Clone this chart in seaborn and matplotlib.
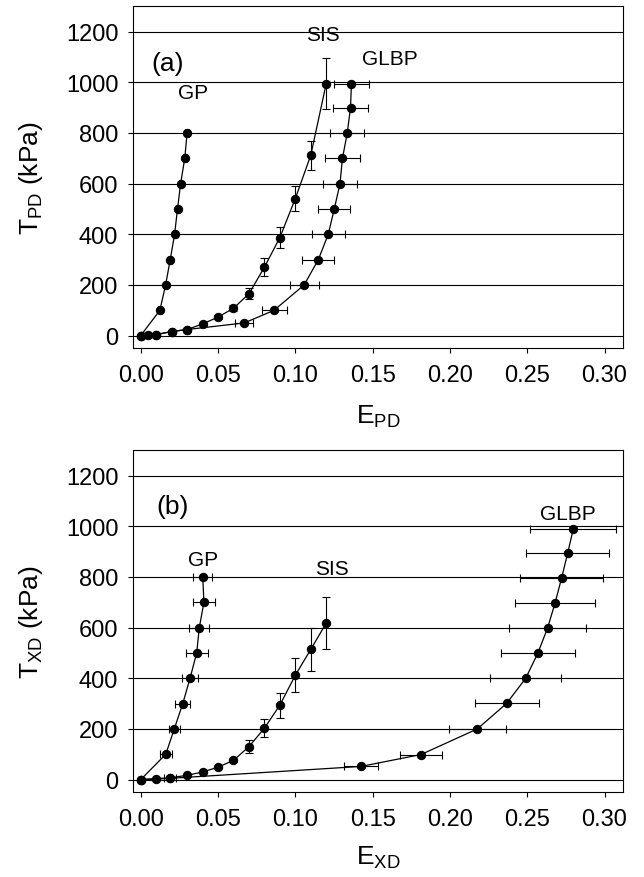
import matplotlib
matplotlib.use("Agg")
import matplotlib.pyplot as plt
import numpy as np
import pandas as pd
import seaborn as sns

sns.set_theme(style="white")
plt.rcParams["font.family"] = ["Liberation Sans", "DejaVu Sans"]
plt.rcParams["mathtext.default"] = "regular"
plt.rcParams["text.color"] = "black"
plt.rcParams["axes.labelcolor"] = "black"

# ---- panel (a): pressure direction ----
gp_pd_x = [0.0, 0.0124, 0.0161, 0.0191, 0.0219, 0.0238, 0.0258, 0.0285, 0.0300]
gp_pd_y = [0, 100, 200, 300, 400, 500, 600, 700, 800]
gp_pd_xerr = [0, 0.0012, 0.0012, 0.0012, 0.0012, 0.0012, 0.0012, 0.0012, 0.0015]

sis_pd_x = [0.0, 0.005, 0.01, 0.02, 0.03, 0.04, 0.05, 0.06, 0.07, 0.08, 0.09, 0.10, 0.11, 0.12]
sis_pd_y = [0, 1, 4, 16, 24, 46, 73, 108, 165, 270, 387, 541, 712, 995]
sis_pd_yerr = [0, 0, 0, 0, 3, 5, 8, 12, 22, 35, 42, 50, 58, 102]

glbp_pd_x = [0.0, 0.01, 0.02, 0.03, 0.067, 0.0863, 0.1057, 0.1149, 0.1213, 0.1252,
             0.1289, 0.1305, 0.1336, 0.1357, 0.1363]
glbp_pd_y = [0, 4, 16, 24, 50, 100, 200, 300, 400, 500, 600, 700, 800, 900, 995]
glbp_pd_xerr = [0, 0, 0, 0, 0.0058, 0.008, 0.0093, 0.0103, 0.0108, 0.0103, 0.0108,
                0.0113, 0.011, 0.0116, 0.0116]

# ---- panel (b): cross direction ----
gp_xd_x = [0.0, 0.0162, 0.0217, 0.0272, 0.0319, 0.0362, 0.0379, 0.0409, 0.0401]
gp_xd_y = [0, 100, 200, 300, 400, 500, 600, 700, 800]
gp_xd_xerr = [0, 0.0038, 0.0036, 0.0049, 0.0054, 0.007, 0.0064, 0.007, 0.0063]

sis_xd_x = [0.0, 0.01, 0.019, 0.03, 0.04, 0.05, 0.06, 0.07, 0.08, 0.09, 0.10, 0.11, 0.12]
sis_xd_y = [0, 4, 7, 17, 30, 49, 76, 130, 203, 294, 412, 514, 618]
sis_xd_yerr = [0, 0, 0, 0, 0, 0, 6, 26, 36, 49, 67, 86, 101]

glbp_xd_x = [0.0, 0.019, 0.1425, 0.1813, 0.2177, 0.2367, 0.249, 0.2568, 0.2632,
             0.268, 0.2723, 0.2762, 0.2798]
glbp_xd_y = [0, 5, 52, 99, 200, 301, 400, 498, 599, 697, 797, 895, 990]
glbp_xd_xerr = [0, 0.0038, 0.0108, 0.0138, 0.0184, 0.0207, 0.023, 0.024, 0.025,
                0.026, 0.027, 0.027, 0.0278]

x_ticks = [0.0, 0.05, 0.10, 0.15, 0.20, 0.25, 0.30]
y_ticks = [0, 200, 400, 600, 800, 1000, 1200]


def draw_curve(ax, x, y, xerr=None, yerr=None):
    df = pd.DataFrame({"x": x, "y": y})
    if xerr is not None or yerr is not None:
        ax.errorbar(x, y, xerr=xerr, yerr=yerr, fmt="none", ecolor="black",
                    elinewidth=0.8, capsize=3, capthick=0.8, zorder=2)
    sns.lineplot(data=df, x="x", y="y", sort=False, estimator=None, color="black",
                 linewidth=0.9, marker="o", markersize=6, markeredgecolor="black",
                 markerfacecolor="black", ax=ax, zorder=3)


def style_axes(ax, xlabel, ylabel, xlabel_y):
    ax.set_xlim(-0.005, 0.312)
    ax.set_ylim(-50, 1300)
    ax.set_xticks(x_ticks)
    ax.set_xticklabels([f"{t:.2f}" for t in x_ticks])
    ax.set_yticks(y_ticks)
    ax.yaxis.grid(True, color="black", linewidth=0.8)
    ax.xaxis.grid(False)
    ax.set_axisbelow(True)
    for s in ax.spines.values():
        s.set_color("black")
        s.set_linewidth(0.8)
    ax.tick_params(axis="both", which="major", direction="out", length=3.6,
                   width=0.8, color="black", labelsize=17, labelcolor="black")
    ax.tick_params(axis="x", pad=8, bottom=True)
    ax.tick_params(axis="y", pad=7, left=True)
    ax.set_xlabel(xlabel, fontsize=19, color="black", va="top")
    ax.set_ylabel(ylabel, fontsize=19, color="black")
    ax.xaxis.set_label_coords(0.5, xlabel_y)
    ax.yaxis.set_label_coords(-0.18, 0.5)


fig = plt.figure(figsize=(6.44, 8.78), dpi=100)
ax_a = fig.add_axes([0.2065, 0.6022, 0.761, 0.3895])
ax_b = fig.add_axes([0.2065, 0.0965, 0.761, 0.3895])

# panel (a)
draw_curve(ax_a, gp_pd_x, gp_pd_y, xerr=gp_pd_xerr)
draw_curve(ax_a, sis_pd_x, sis_pd_y, yerr=sis_pd_yerr)
draw_curve(ax_a, glbp_pd_x, glbp_pd_y, xerr=glbp_pd_xerr)
style_axes(ax_a, "E$_{PD}$", "T$_{PD}$ (kPa)", -0.16)
ax_a.text(0.0176, 1078, "(a)", fontsize=19, ha="center", va="center", color="black")
ax_a.text(0.0337, 958, "GP", fontsize=15, ha="center", va="center", color="black")
ax_a.text(0.1176, 1187, "SIS", fontsize=15, ha="center", va="center", color="black")
ax_a.text(0.161, 1094, "GLBP", fontsize=15, ha="center", va="center", color="black")

# panel (b)
draw_curve(ax_b, gp_xd_x, gp_xd_y, xerr=gp_xd_xerr)
draw_curve(ax_b, sis_xd_x, sis_xd_y, yerr=sis_xd_yerr)
draw_curve(ax_b, glbp_xd_x, glbp_xd_y, xerr=glbp_xd_xerr)
style_axes(ax_b, "E$_{XD}$", "T$_{XD}$ (kPa)", -0.15)
ax_b.text(0.0204, 1081, "(b)", fontsize=19, ha="center", va="center", color="black")
ax_b.text(0.0402, 867, "GP", fontsize=15, ha="center", va="center", color="black")
ax_b.text(0.1235, 834, "SIS", fontsize=15, ha="center", va="center", color="black")
ax_b.text(0.2761, 1050, "GLBP", fontsize=15, ha="center", va="center", color="black")

fig.savefig("out.png", dpi=100)
plt.close(fig)
